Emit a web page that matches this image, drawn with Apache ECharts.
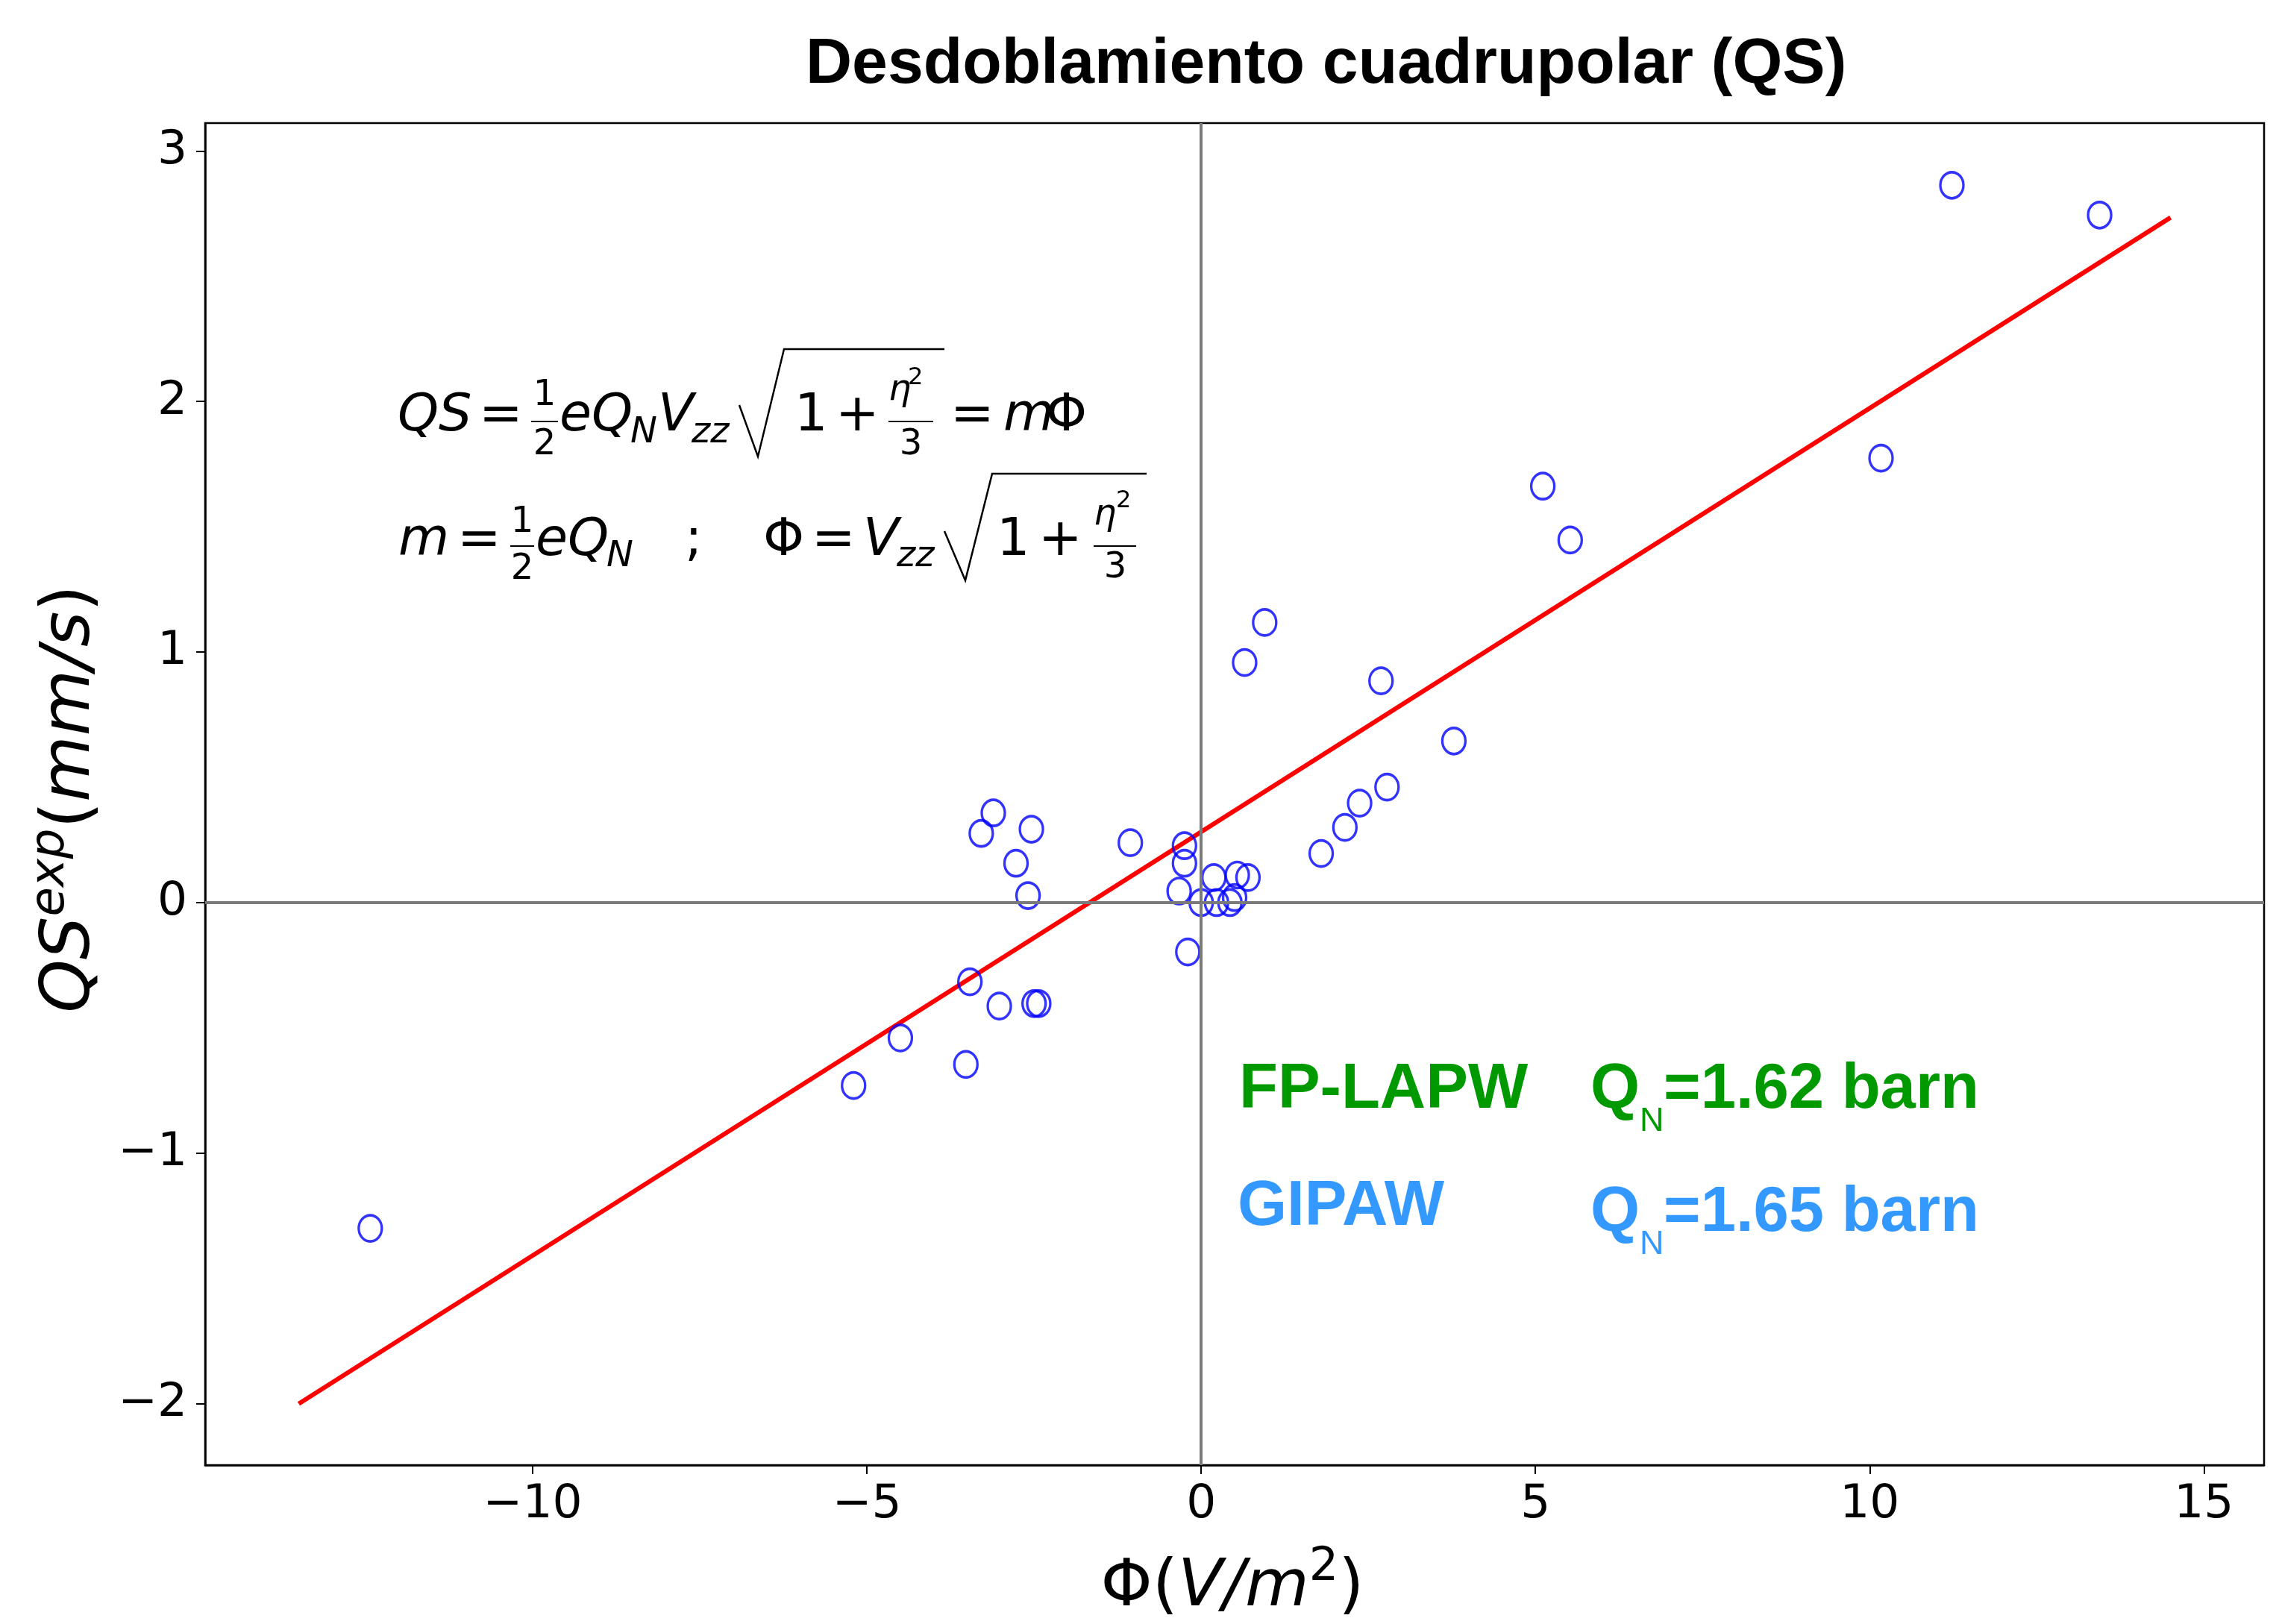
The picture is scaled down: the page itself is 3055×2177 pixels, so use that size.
<!DOCTYPE html>
<html>
<head>
<meta charset="utf-8">
<script src="https://cdn.jsdelivr.net/npm/echarts@6/dist/echarts.min.js"></script>
<style>html,body{margin:0;padding:0;background:#fff}#chart{width:3055px;height:2177px}</style>
</head>
<body>
<div id="chart"></div>
<script>
// ---- data ----
const phiValues = [-12.43, -5.20, -4.50, -3.52, -3.46, -3.02, -2.50, -2.43, -3.29, -3.11,
  -2.77, -2.54, -2.59, -1.06, -0.25, -0.25, -0.33, -0.20, 0.00, 0.19,
  0.23, 0.43, 0.54, 0.50, 0.70, 0.65, 0.95, 1.795, 2.15, 2.37,
  2.69, 2.78, 3.78, 5.11, 5.52, 10.17, 11.23, 13.44];
const qsValues = [-1.30, -0.73, -0.54, -0.646, -0.316, -0.413, -0.403, -0.403, 0.276, 0.358,
  0.157, 0.293, 0.028, 0.239, 0.227, 0.157, 0.046, -0.197, 0.00, 0.10,
  0.00, 0.00, 0.11, 0.02, 0.10, 0.958, 1.118, 0.196, 0.30, 0.397,
  0.885, 0.461, 0.645, 1.662, 1.447, 1.774, 2.863, 2.744];
const fitPhi = [-13.5, 14.5];
const fitQS = [-2.0, 2.734];
const xTicks = [-10, -5, 0, 5, 10, 15];
const yTicks = [-2, -1, 0, 1, 2, 3];
const xRange = [-14.9, 15.9];
const yRange = [-2.245, 3.111];
const titleText = 'Desdoblamiento cuadrupolar (QS)';
const methodLabels = ['FP-LAPW', 'GIPAW'];
const qnLabels = ['=1.62 barn', '=1.65 barn'];

const minusFmt = v => (v < 0 ? '\u2212' + Math.abs(v) : String(v));

const mctx = document.createElement('canvas').getContext('2d');
function W(text, size, italic) {
  mctx.font = (italic ? 'italic ' : '') + size + 'px "DejaVu Sans"';
  return mctx.measureText(text).width;
}

function T(text, x, base, size, o) {
  o = o || {};
  return {
    type: 'text', x: x, y: base - 0.346 * size, silent: true, z: 50,
    style: {
      text: text, fontSize: size, fontFamily: o.ff || 'DejaVu Sans',
      fontStyle: o.it ? 'italic' : 'normal', fontWeight: o.bold ? 'bold' : 'normal',
      fill: o.c || '#000', align: o.al || 'left', verticalAlign: 'middle'
    }
  };
}
function L(x1, y1, x2, y2, w) {
  return { type: 'line', silent: true, z: 50, shape: { x1, y1, x2, y2 }, style: { stroke: '#000', lineWidth: w || 2 } };
}
function P(points) {
  return { type: 'polyline', silent: true, z: 50, shape: { points }, style: { stroke: '#000', lineWidth: 2.5, fill: null } };
}
// sequence of pieces [text, size, italic, raise] laid out on a baseline at local y=0
function seq(pieces) {
  let x = 0;
  const els = [];
  pieces.forEach(p => {
    els.push(T(p[0], x, -(p[3] || 0), p[1], { it: p[2] }));
    x += W(p[0], p[1], p[2]);
  });
  return { els, width: x };
}

const F = 70, S = 48, SS = 32;
const IT = { it: true };
const GREEN = '#009a00', BLUE = '#3399ff';

const xName = seq([['\u03a6', 88, false], ['(', 88, false], ['V/m', 88, true], ['2', 62, false, 37], [')', 88, false]]);
const yName = seq([['QS', 91, true], ['exp', 64, true, 36], ['(', 91, false], ['mm/s', 91, true], [')', 91, false]]);

const graphics = [
  // line 1 of formula
  T('QS', 533, 583, F, IT),
  T('=', 642, 583, F),
  T('1', 730, 547, S, { al: 'center' }),
  L(712, 565, 748, 565),
  T('2', 730, 613, S, { al: 'center' }),
  T('eQ', 750, 583, F, IT),
  T('N', 845, 597, S, IT),
  T('V', 882, 583, F, IT),
  T('zz', 927, 597, S, IT),
  P([[991, 543], [1016, 612], [1051, 468], [1266, 468]]),
  T('1', 1065, 583, F),
  T('+', 1120, 583, F),
  T('\u03b7', 1191, 540, S, IT),
  T('2', 1217, 518, SS),
  L(1191, 565, 1251, 565),
  T('3', 1221, 613, S, { al: 'center' }),
  T('=', 1274, 583, F),
  T('m', 1345, 583, F, IT),
  T('\u03a6', 1402, 583, F),
  // line 2 of formula
  T('m', 534, 750, F, IT),
  T('=', 613, 750, F),
  T('1', 700, 717, S, { al: 'center' }),
  L(684, 732, 716, 732),
  T('2', 700, 780, S, { al: 'center' }),
  T('eQ', 718, 750, F, IT),
  T('N', 813, 763, S, IT),
  T(';', 918, 750, F),
  T('\u03a6', 1023, 750, F),
  T('=', 1088, 750, F),
  T('V', 1157, 750, F, IT),
  T('zz', 1202, 763, S, IT),
  P([[1266, 712], [1294, 778], [1330, 635], [1537, 635]]),
  T('1', 1336, 750, F),
  T('+', 1392, 750, F),
  T('\u03b7', 1466, 707, S, IT),
  T('2', 1496, 683, SS),
  L(1466, 732, 1523, 732),
  T('3', 1495, 778, S, { al: 'center' }),
  // annotations
  T(methodLabels[0], 1661, 1491, 85, { ff: 'Liberation Sans', bold: true, c: GREEN }),
  T('Q', 2132, 1491, 85, { ff: 'Liberation Sans', bold: true, c: GREEN }),
  T('N', 2198, 1519, 45, { ff: 'Liberation Sans', c: GREEN }),
  T(qnLabels[0], 2230, 1491, 85, { ff: 'Liberation Sans', bold: true, c: GREEN }),
  T(methodLabels[1], 1659, 1648, 85, { ff: 'Liberation Sans', bold: true, c: BLUE }),
  T('Q', 2132, 1656, 85, { ff: 'Liberation Sans', bold: true, c: BLUE }),
  T('N', 2198, 1684, 45, { ff: 'Liberation Sans', c: BLUE }),
  T(qnLabels[1], 2230, 1656, 85, { ff: 'Liberation Sans', bold: true, c: BLUE }),
  // x axis name
  { type: 'group', x: 1652 - xName.width / 2, y: 2160, children: xName.els },
  // y axis name (reads bottom to top)
  { type: 'group', x: 127, y: 1071 + yName.width / 2, rotation: Math.PI / 2, children: yName.els }
];

const chart = echarts.init(document.getElementById('chart'), null, { renderer: 'canvas' });
chart.setOption({
  animation: false,
  backgroundColor: '#ffffff',
  title: {
    text: titleText, left: 1080, top: 44, padding: 0,
    textStyle: { fontFamily: 'Liberation Sans', fontWeight: 'bold', fontSize: 86, color: '#000' }
  },
  grid: { left: 275, right: 20, top: 165, bottom: 213, show: true, borderColor: '#000', borderWidth: 2.5, backgroundColor: 'transparent' },
  xAxis: {
    type: 'value', min: xRange[0], max: xRange[1],
    splitLine: { show: false },
    axisLine: { show: true, onZero: false, lineStyle: { color: '#000', width: 2.5 } },
    axisTick: { show: true, length: 12, lineStyle: { color: '#000', width: 2 }, customValues: xTicks },
    axisLabel: { customValues: xTicks, fontSize: 63, fontFamily: 'DejaVu Sans', color: '#000', margin: 22, formatter: minusFmt }
  },
  yAxis: {
    type: 'value', min: yRange[0], max: yRange[1],
    splitLine: { show: false },
    axisLine: { show: true, onZero: false, lineStyle: { color: '#000', width: 2.5 } },
    axisTick: { show: true, length: 12, lineStyle: { color: '#000', width: 2 }, customValues: yTicks },
    axisLabel: { customValues: yTicks, fontSize: 63, fontFamily: 'DejaVu Sans', color: '#000', margin: 24, formatter: minusFmt }
  },
  series: [
    {
      name: 'zero', type: 'line', data: [], z: 1, silent: true,
      markLine: {
        silent: true, symbol: ['none', 'none'], label: { show: false },
        lineStyle: { color: '#7a7a7a', width: 4, type: 'solid' },
        emphasis: { disabled: true },
        data: [{ xAxis: 0 }, { yAxis: 0 }]
      }
    },
    {
      name: 'fit', type: 'line', z: 2, silent: true, showSymbol: false,
      data: fitPhi.map((x, i) => [x, fitQS[i]]),
      lineStyle: { color: '#ff0000', width: 6 }
    },
    {
      name: 'QS', type: 'scatter', z: 3, silent: true,
      symbol: 'circle', symbolSize: [31, 35],
      itemStyle: { color: 'rgba(0,0,0,0)', borderColor: '#0000ff', borderWidth: 3.5 },
      data: phiValues.map((x, i) => [x, qsValues[i]])
    }
  ],
  graphic: graphics
});
</script>
</body>
</html>
